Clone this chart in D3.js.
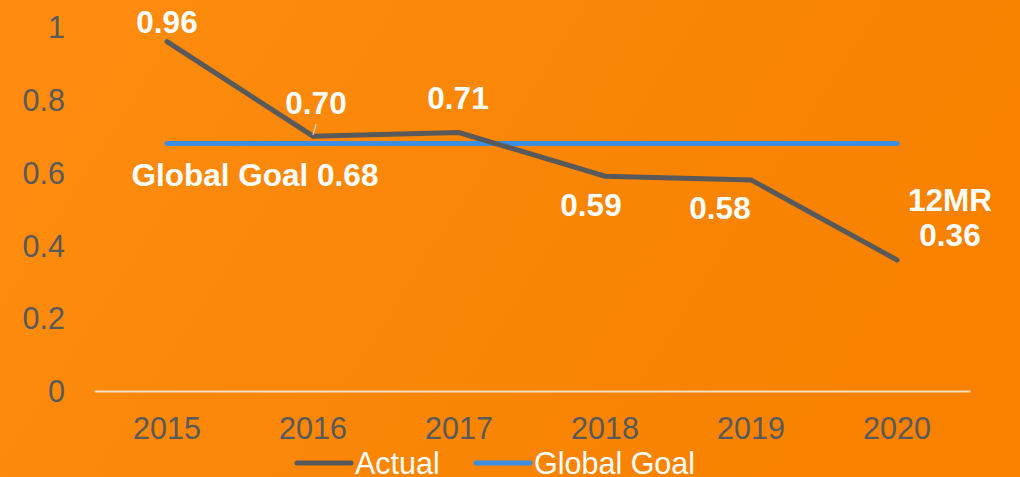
<!DOCTYPE html>
<html>
<head>
<meta charset="UTF-8">
<style>
body { margin: 0; }
svg { display: block; font-family: "Liberation Sans", Arial, sans-serif; }
.tick text { fill: #595959; font-size: 30.5px; }
.lbl { fill: #fff; font-weight: bold; font-size: 31.5px; }
</style>
</head>
<body>
<svg width="1020" height="477"></svg>
<script src="https://d3js.org/d3.v7.min.js"></script>
<script>
var years = ["2015", "2016", "2017", "2018", "2019", "2020"];
var actual = [0.96, 0.70, 0.71, 0.59, 0.58, 0.36];
var goal = [0.68, 0.68, 0.68, 0.68, 0.68, 0.68];
var yTicks = [0, 0.2, 0.4, 0.6, 0.8, 1];

var svg = d3.select("svg");

var defs = svg.append("defs");
var grad = defs.append("linearGradient").attr("id", "bg")
    .attr("x1", "0").attr("y1", "0").attr("x2", "1").attr("y2", "0.3");
grad.append("stop").attr("offset", "0").attr("stop-color", "#fd8c10");
grad.append("stop").attr("offset", "1").attr("stop-color", "#f88200");
svg.append("rect").attr("width", 1020).attr("height", 477).attr("fill", "url(#bg)");

var x = d3.scaleBand().domain(years).range([94, 970]);
var y = d3.scaleLinear().domain([0, 1]).range([391, 27]);
var cx = function(d) { return x(d) + x.bandwidth() / 2; };

// y axis labels
svg.append("g")
    .attr("transform", "translate(65,0)")
    .call(d3.axisLeft(y).tickValues(yTicks).tickSize(0).tickPadding(0).tickFormat(function(d) { return d3.format("~g")(d); }))
    .call(function(g) { g.select(".domain").remove(); })
    .selectAll("text").attr("dy", "0.35em");

// x axis
var xa = svg.append("g")
    .attr("transform", "translate(0,391)")
    .call(d3.axisBottom(x).tickSize(0).tickPadding(26));
xa.select(".domain").attr("stroke", "#f7dcc0").attr("stroke-width", 2);

var line = d3.line()
    .x(function(d, i) { return cx(years[i]); })
    .y(function(d) { return y(d); });

svg.append("path").datum(goal)
    .attr("d", line)
    .attr("fill", "none").attr("stroke", "#3d8ee0").attr("stroke-width", 5).attr("stroke-linecap", "round");

svg.append("path").datum(actual)
    .attr("d", line)
    .attr("fill", "none").attr("stroke", "#595959").attr("stroke-width", 5).attr("stroke-linecap", "round");

// leader line for 0.70
svg.append("line")
    .attr("x1", cx("2016") + 3).attr("y1", y(0.70) - 12)
    .attr("x2", cx("2016")).attr("y2", y(0.70) - 1)
    .attr("stroke", "#d9d9d9").attr("stroke-width", 1.2);

// data labels
var labels = [
  {t: "0.96", x: cx("2015"), y: y(0.96) - 9},
  {t: "0.70", x: cx("2016") + 3, y: y(0.70) - 22},
  {t: "0.71", x: cx("2017") - 1, y: y(0.71) - 24},
  {t: "Global Goal 0.68", x: 255, y: y(0.68) + 43},
  {t: "0.59", x: cx("2018") - 14, y: y(0.59) + 40},
  {t: "0.58", x: cx("2019") - 31, y: y(0.58) + 39},
  {t: "12MR", x: 950, y: 211},
  {t: "0.36", x: 950, y: 246}
];
svg.selectAll(".lbl").data(labels).enter().append("text")
    .attr("class", "lbl")
    .attr("x", function(d) { return d.x; })
    .attr("y", function(d) { return d.y; })
    .attr("text-anchor", "middle")
    .text(function(d) { return d.t; });

// legend
var legend = [
  {name: "Actual", color: "#595959", x: 297},
  {name: "Global Goal", color: "#3d8ee0", x: 476}
];
var lg = svg.selectAll(".leg").data(legend).enter().append("g")
    .attr("transform", function(d) { return "translate(" + d.x + ",463)"; });
lg.append("line").attr("x1", 0).attr("x2", 54)
    .attr("stroke", function(d) { return d.color; })
    .attr("stroke-width", 5).attr("stroke-linecap", "round");
lg.append("text").attr("x", 58).attr("dy", "0.35em")
    .attr("fill", "#fff").style("font-size", "30.5px")
    .text(function(d) { return d.name; });
</script>
</body>
</html>
